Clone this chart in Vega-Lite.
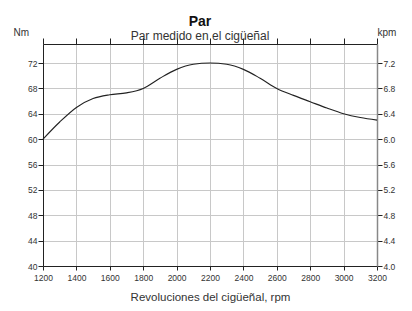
{
  "$schema": "https://vega.github.io/schema/vega-lite/v6.json",
  "width": 334,
  "height": 222,
  "autosize": {"type": "none"},
  "padding": {"left": 43, "top": 44, "right": 35, "bottom": 45},
  "background": "white",
  "config": {
    "font": "Liberation Sans",
    "view": {"stroke": null},
    "axis": {"labelFont": "Liberation Sans", "titleFont": "Liberation Sans", "labelColor": "#333", "titleColor": "#333", "labelFontSize": 8.5, "domainColor": "#222", "tickColor": "#222", "gridColor": "#c8c8c8", "titleFontWeight": "normal"}
  },
  "title": {
    "text": "Par",
    "subtitle": "Par medido en el cigüeñal",
    "anchor": "middle",
    "frame": "group",
    "dx": -10,
    "dy": 15,
    "fontSize": 14,
    "fontWeight": "bold",
    "color": "#111",
    "subtitleFontSize": 12,
    "subtitleColor": "#333",
    "subtitlePadding": 2,
    "offset": 0
  },
  "data": {
    "values": [
      {"rpm": 1200, "nm": 60.0},
      {"rpm": 1300, "nm": 62.7},
      {"rpm": 1400, "nm": 65.0},
      {"rpm": 1500, "nm": 66.4},
      {"rpm": 1600, "nm": 67.0},
      {"rpm": 1700, "nm": 67.3},
      {"rpm": 1800, "nm": 68.0},
      {"rpm": 1900, "nm": 69.6},
      {"rpm": 2000, "nm": 71.0},
      {"rpm": 2100, "nm": 71.8},
      {"rpm": 2200, "nm": 72.0},
      {"rpm": 2300, "nm": 71.8},
      {"rpm": 2400, "nm": 71.0},
      {"rpm": 2500, "nm": 69.6},
      {"rpm": 2600, "nm": 68.0},
      {"rpm": 2700, "nm": 66.9},
      {"rpm": 2800, "nm": 65.9},
      {"rpm": 2900, "nm": 64.9},
      {"rpm": 3000, "nm": 64.0},
      {"rpm": 3100, "nm": 63.4},
      {"rpm": 3200, "nm": 63.0}
    ]
  },
  "layer": [
    {
      "mark": {"type": "line", "interpolate": "monotone", "color": "#222", "strokeWidth": 1.1},
      "encoding": {
        "x": {
          "field": "rpm", "type": "quantitative",
          "scale": {"domain": [1200, 3200], "nice": false, "zero": false},
          "axis": {
            "values": [1200, 1400, 1600, 1800, 2000, 2200, 2400, 2600, 2800, 3000, 3200],
            "format": "d",
            "title": "Revoluciones del cigüeñal, rpm",
            "titleFontSize": 11.5,
            "titlePadding": 10,
            "tickSize": 4,
            "labelPadding": 3,
            "grid": true,
            "labelFlush": false
          }
        },
        "y": {
          "field": "nm", "type": "quantitative",
          "scale": {"domain": [40, 75], "nice": false, "zero": false},
          "axis": {
            "values": [40, 44, 48, 52, 56, 60, 64, 68, 72],
            "title": "Nm",
            "titleAngle": 0,
            "titleAlign": "left",
            "titleBaseline": "alphabetic",
            "titleX": -30,
            "titleY": -9,
            "titleFontSize": 10,
            "tickSize": 5,
            "labelPadding": 1,
            "grid": true
          }
        }
      }
    },
    {
      "mark": {"type": "line", "opacity": 0},
      "encoding": {
        "x": {
          "field": "rpm", "type": "quantitative",
          "axis": {
            "orient": "top",
            "values": [1200, 1400, 1600, 1800, 2000, 2200, 2400, 2600, 2800, 3000, 3200],
            "labels": false,
            "title": null,
            "tickSize": 6,
            "grid": false
          }
        },
        "y": {
          "field": "nm", "type": "quantitative",
          "axis": {
            "orient": "right",
            "values": [40, 44, 48, 52, 56, 60, 64, 68, 72],
            "labelExpr": "format(datum.value / 10, '.1f')",
            "title": "kpm",
            "titleAngle": 0,
            "titleAlign": "left",
            "titleBaseline": "alphabetic",
            "titleX": 0,
            "titleY": -9,
            "titleFontSize": 10,
            "tickSize": 5,
            "labelPadding": 1,
            "domainColor": "#888",
            "domainWidth": 1.5,
            "grid": false
          }
        }
      }
    }
  ],
  "resolve": {"axis": {"x": "independent", "y": "independent"}}
}
